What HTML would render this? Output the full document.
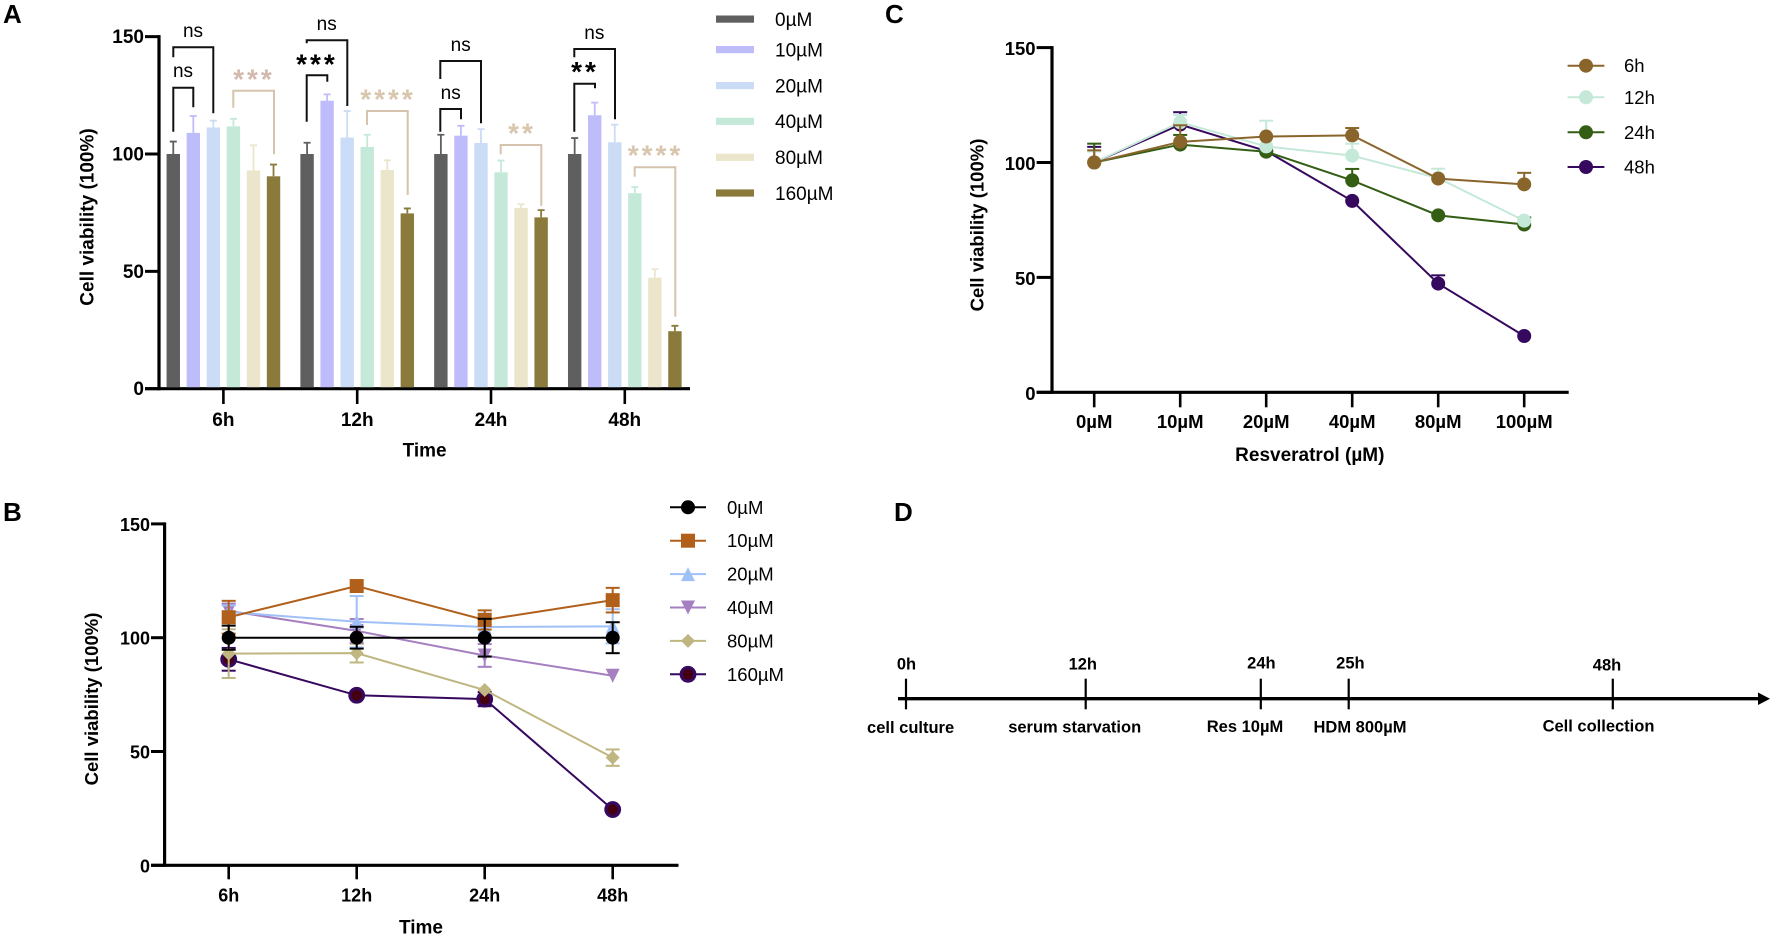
<!DOCTYPE html>
<html lang="en">
<head>
<meta charset="utf-8">
<title>Cell viability figure</title>
<style>
html,body{margin:0;padding:0;background:#fff}
svg{display:block;position:absolute;left:0;top:0}
text{font-family:"Liberation Sans",sans-serif;fill:#000}
.b{font-weight:700}
.bracket{fill:none;stroke-width:2}
.stars{font-size:28px;font-weight:700;letter-spacing:3px;text-anchor:middle}
.ns{font-size:19px;text-anchor:middle}
.d{font-size:16.5px;font-weight:700;text-anchor:middle;dominant-baseline:central}
.leg{font-size:19px;dominant-baseline:central}
.letter{font-size:26px;font-weight:700}
</style>
</head>
<body>
<svg id="figure" xmlns="http://www.w3.org/2000/svg" width="1772" height="937" viewBox="0 0 1772 937">
<rect width="1772" height="937" fill="#fff"/>
<text class="letter" x="3" y="23">A</text>
<text class="letter" x="3" y="521">B</text>
<text class="letter" x="885" y="23">C</text>
<text class="letter" x="894" y="521">D</text>

<g id="panelA"></g>
<g id="panelABrackets">
  <path class="bracket" stroke="#111" d="M173.3 131.7V87.7H193.3V107.3"/>
  <text class="ns" x="183" y="77">ns</text>
  <path class="bracket" stroke="#111" d="M173.3 57.3V47.3H213.3V113.3"/>
  <text class="ns" x="193" y="37">ns</text>
  <path class="bracket" stroke="#d6c3ad" d="M233.3 107.7V90.7H274V154.3"/>
  <text class="stars" style="fill:#d3b9ae" x="254" y="88.5">***</text>

  <path class="bracket" stroke="#111" d="M306.7 43.3V40.3H347.3V106"/>
  <text class="ns" x="326.7" y="30">ns</text>
  <path class="bracket" stroke="#111" d="M306.7 121.7V75.3H327.3V81.7"/>
  <text class="stars" x="317" y="73.5">***</text>
  <path class="bracket" stroke="#d6c3ad" d="M367 125V111H407.7V195"/>
  <text class="stars" style="fill:#d9c6ae" x="388" y="108.5">****</text>

  <path class="bracket" stroke="#111" d="M440.3 79V61H481V123.3"/>
  <text class="ns" x="460.7" y="51">ns</text>
  <path class="bracket" stroke="#111" d="M440.3 131.7V109H461V119.3"/>
  <text class="ns" x="450.7" y="99">ns</text>
  <path class="bracket" stroke="#d6c3ad" d="M500.7 154.3V145H541.3V205.7"/>
  <text class="stars" style="fill:#d9c6ae" x="522" y="142.5">**</text>

  <path class="bracket" stroke="#111" d="M574.3 57.3V49H615V119.3"/>
  <text class="ns" x="594.3" y="39">ns</text>
  <path class="bracket" stroke="#111" d="M574.3 131.7V83.7H595V88.3"/>
  <text class="stars" x="585" y="81">**</text>
  <path class="bracket" stroke="#d6c3ad" d="M634.7 176.7V167.3H675.3V316.7"/>
  <text class="stars" style="fill:#d9c6ae" x="655.5" y="164.5">****</text>
</g>
<g id="legendA">
  <rect x="716" y="15.5" width="38" height="7.2" fill="#5f5f5f"/>
  <text class="leg" x="775" y="20.5">0µM</text>
  <rect x="716" y="46" width="38" height="7.2" fill="#bfbcfb"/>
  <text class="leg" x="775" y="51">10µM</text>
  <rect x="716" y="82" width="38" height="7.2" fill="#cbdcf6"/>
  <text class="leg" x="775" y="87">20µM</text>
  <rect x="716" y="117.7" width="38" height="7.2" fill="#c5e9d9"/>
  <text class="leg" x="775" y="122.5">40µM</text>
  <rect x="716" y="153.7" width="38" height="7.2" fill="#ebe5cb"/>
  <text class="leg" x="775" y="158.5">80µM</text>
  <rect x="716" y="189.4" width="38" height="7.2" fill="#8a7b3c"/>
  <text class="leg" x="775" y="194.3">160µM</text>
</g>

<g id="panelB"></g>
<g id="panelC"></g>

<g id="panelD">
  <line x1="898" y1="698.7" x2="1760" y2="698.7" stroke="#000" stroke-width="3.4"/>
  <polygon points="1758,692.5 1770,698.7 1758,705" fill="#000"/>
  <line x1="906" y1="678.7" x2="906" y2="709.3" stroke="#000" stroke-width="2.2"/>
  <line x1="1085.7" y1="678.7" x2="1085.7" y2="709.3" stroke="#000" stroke-width="2.2"/>
  <line x1="1260.8" y1="678.7" x2="1260.8" y2="709.3" stroke="#000" stroke-width="2.2"/>
  <line x1="1348.7" y1="678.7" x2="1348.7" y2="709.3" stroke="#000" stroke-width="2.2"/>
  <line x1="1612.8" y1="678.7" x2="1612.8" y2="709.3" stroke="#000" stroke-width="2.2"/>
  <text class="d" x="906.5" y="664.3">0h</text>
  <text class="d" x="1082.8" y="664.3">12h</text>
  <text class="d" x="1261.4" y="663.7">24h</text>
  <text class="d" x="1350.4" y="663.7">25h</text>
  <text class="d" x="1607" y="665.7">48h</text>
  <text class="d" x="910.6" y="727.8">cell culture</text>
  <text class="d" x="1074.7" y="727.5">serum starvation</text>
  <text class="d" x="1245" y="727.2">Res 10µM</text>
  <text class="d" x="1360" y="727.5">HDM 800µM</text>
  <text class="d" x="1598.5" y="726.5">Cell collection</text>
</g>
</svg>

<script>
// ---- Shared tick labels ----
const yTickValues = [0, 50, 100, 150];

// ---- Panel A data ----
const timeCategories = ['6h', '12h', '24h', '48h'];
const barDoseLabels = ['0uM', '10uM', '20uM', '40uM', '80uM', '160uM'];
const bars6h = [100, 109, 111.3, 111.8, 93, 90.5];
const bars12h = [100, 122.7, 107, 103, 93.2, 74.7];
const bars24h = [100, 107.8, 104.7, 92.2, 77, 73];
const bars48h = [100, 116.5, 105, 83.3, 47.3, 24.5];
const barTops6h = [105.3, 116.2, 114.2, 115, 103.7, 95.5];
const barTops12h = [104.8, 125.4, 118.3, 108.2, 97.3, 76.8];
const barTops24h = [108.2, 112, 110.6, 97.2, 78.6, 76.1];
const barTops48h = [106.8, 121.9, 112.5, 85.9, 50.9, 26.8];

// ---- Panel B data (across time) ----
const lineB0 = [100, 100, 100, 100];
const lineB10 = [109, 122.7, 107.8, 116.5];
const lineB20 = [111.3, 107, 104.7, 105];
const lineB40 = [111.8, 103, 92.2, 83.3];
const lineB80 = [93, 93.2, 77, 47.3];
const lineB160 = [90.5, 74.7, 73, 24.5];
const errB0 = [5.3, 4.8, 8.3, 6.8];
const errB10 = [7.2, 0, 4.2, 5.4];
const errB20 = [2.9, 11.3, 5.9, 7.5];
const errB40 = [3.2, 5.2, 5, 0];
const errB80 = [10.7, 4.1, 0, 3.6];
const errB160 = [5, 0, 3.1, 0];

// ---- Panel C data (across dose) ----
const doseCategories = ['0µM', '10µM', '20µM', '40µM', '80µM', '100µM'];
const lineC6h = [100, 109, 111.3, 111.8, 93, 90.5];
const lineC12h = [100, 117.5, 107, 103, 93.2, 74.7];
const lineC24h = [100, 107.8, 104.7, 92.2, 77, 73];
const lineC48h = [100, 116.5, 105, 83.3, 47.3, 24.5];
const errC6h = [5.3, 7.2, 0, 3.2, 0, 5];
const errC12h = [4.8, 3.2, 11.2, 5.2, 4.1, 0];
const errC24h = [8.2, 4.2, 0, 5, 0, 3.1];
const errC48h = [6.8, 5.4, 0, 0, 3.6, 0];

const NS = 'http://www.w3.org/2000/svg';
function add(parent, tag, attrs, txt) {
  const el = document.createElementNS(NS, tag);
  for (const k in attrs) el.setAttribute(k, attrs[k]);
  if (txt !== undefined) el.textContent = txt;
  parent.appendChild(el);
  return el;
}

function drawAxes(g, c) {
  const yAxis = add(g, 'line', {x1: c.axisX, y1: c.yOf(150) - 1.5, x2: c.axisX, y2: c.yOf(0) + 1.5, stroke: '#000', 'stroke-width': 3.2});
  
  
  const xAxis = add(g, 'line', {x1: c.axisStart, y1: c.yOf(0), x2: c.axisEnd, y2: c.yOf(0), stroke: '#000', 'stroke-width': 3.2});
  
  
  yTickValues.forEach(function (v) {
    const t = add(g, 'line', {x1: c.axisStart, y1: c.yOf(v), x2: c.axisX, y2: c.yOf(v), stroke: '#000', 'stroke-width': 3});
    
    
    const l = add(g, 'text', {x: c.axisStart - 1, y: c.yOf(v) + 1, 'text-anchor': 'end', 'dominant-baseline': 'central', 'font-weight': 700, 'font-size': c.tickSize}, String(v));
    
    
  });
  c.categories.forEach(function (cat, i) {
    const t = add(g, 'line', {x1: c.xOf(i), y1: c.yOf(0), x2: c.xOf(i), y2: c.tickBottom, stroke: '#000', 'stroke-width': 2.6});
    
    
    const l = add(g, 'text', {x: c.xOf(i), y: c.tickLabelY, 'text-anchor': 'middle', 'dominant-baseline': 'central', 'font-weight': 700, 'font-size': c.tickSize}, cat);
    
    
  });
  const xt = add(g, 'text', {x: c.xTitleX, y: c.xTitleY, 'text-anchor': 'middle', 'dominant-baseline': 'central', 'font-weight': 700, 'font-size': 19}, c.xTitle);
  
  
  const yt = add(g, 'text', {transform: 'translate(' + c.yTitleX + ' ' + c.yTitleY + ') rotate(-90)', 'text-anchor': 'middle', 'dominant-baseline': 'central', 'font-weight': 700, 'font-size': c.yTitleSize}, 'Cell viability (100%)');
  
  
}

function drawMarker(g, kind, x, y, color, name) {
  let m;
  if (kind === 'circle') {
    m = add(g, 'circle', {cx: x, cy: y, r: 7, fill: color});
  } else if (kind === 'ring') {
    m = add(g, 'circle', {cx: x, cy: y, r: 6.8, fill: '#44000f', stroke: color, 'stroke-width': 3.2});
  } else if (kind === 'square') {
    m = add(g, 'rect', {x: x - 7, y: y - 7, width: 14, height: 14, fill: color});
  } else if (kind === 'up') {
    m = add(g, 'polygon', {points: (x - 7) + ',' + (y + 7) + ' ' + (x + 7) + ',' + (y + 7) + ' ' + x + ',' + (y - 7), fill: color});
  } else if (kind === 'down') {
    m = add(g, 'polygon', {points: (x - 7) + ',' + (y - 7) + ' ' + (x + 7) + ',' + (y - 7) + ' ' + x + ',' + (y + 7), fill: color});
  } else {
    m = add(g, 'polygon', {points: (x - 7) + ',' + y + ' ' + x + ',' + (y - 7) + ' ' + (x + 7) + ',' + y + ' ' + x + ',' + (y + 7), fill: color});
  }
  
  
}

function drawSeries(g, c, s) {
  const sg = add(g, 'g', {});
  
  
  s.values.forEach(function (v, i) {
    if (s.errs[i] <= 0) return;
    const x = c.xOf(i);
    const top = c.yOf(v + s.errs[i]);
    const bot = s.both ? c.yOf(v - s.errs[i]) : c.yOf(v);
    const e = add(sg, 'line', {x1: x, y1: top, x2: x, y2: bot, stroke: s.color, 'stroke-width': 2});
    
    
    const capTop = add(sg, 'line', {x1: x - 7, y1: top, x2: x + 7, y2: top, stroke: s.color, 'stroke-width': 2});
    
    
    if (s.both) {
      const capBot = add(sg, 'line', {x1: x - 7, y1: bot, x2: x + 7, y2: bot, stroke: s.color, 'stroke-width': 2});
      
      
    }
  });
  const pts = s.values.map(function (v, i) { return c.xOf(i) + ',' + c.yOf(v); }).join(' ');
  const line = add(sg, 'polyline', {points: pts, fill: 'none', stroke: s.color, 'stroke-width': 2});
  
  
  s.values.forEach(function (v, i) {
    drawMarker(sg, s.marker, c.xOf(i), c.yOf(v), s.color, 'point-' + s.name);
  });
}

function legendRow(g, s, x1, x2, textX, y, size) {
  const l = add(g, 'line', {x1: x1, y1: y, x2: x2, y2: y, stroke: s.color, 'stroke-width': 2});
  
  
  drawMarker(g, s.marker, (x1 + x2) / 2, y, s.color, 'legend-marker-' + s.name);
  const t = add(g, 'text', {x: textX, y: y, 'dominant-baseline': 'central', 'font-size': size}, s.label);
  
  
}

// ---- Panel A ----
const cfgA = {
  yOf: function (v) { return 388.7 - v * 2.347; },
  xOf: function (i) { return 223.4 + i * 133.8; },
  axisX: 159, axisStart: 145, axisEnd: 690, tickBottom: 404, tickLabelY: 420.5, tickSize: 19,
  categories: timeCategories, xTitle: 'Time', xTitleX: 424.6, xTitleY: 451,
  yTitleX: 88, yTitleY: 217, yTitleSize: 19
};
const groupsA = [bars6h, bars12h, bars24h, bars48h];
const topsA = [barTops6h, barTops12h, barTops24h, barTops48h];
const barColors = ['#5f5f5f', '#bfbcfb', '#cbdcf6', '#c5e9d9', '#ebe5cb', '#8a7b3c'];
const gA = document.getElementById('panelA');
drawAxes(gA, cfgA);
groupsA.forEach(function (vals, gi) {
  vals.forEach(function (v, bi) {
    const cx = cfgA.xOf(gi) + (bi - 2.5) * 20.05;
    const r = add(gA, 'rect', {x: cx - 6.7, y: cfgA.yOf(v), width: 13.4, height: cfgA.yOf(0) - 1.5 - cfgA.yOf(v), fill: barColors[bi]});
    
    
    const yt = cfgA.yOf(topsA[gi][bi]);
    const e = add(gA, 'path', {d: 'M' + cx + ' ' + cfgA.yOf(v) + 'V' + yt + 'M' + (cx - 3.5) + ' ' + yt + 'H' + (cx + 3.5), fill: 'none', stroke: barColors[bi], 'stroke-width': 1.8});
    
    
  });
});

// ---- Panel B ----
const cfgB = {
  yOf: function (v) { return 865.3 - v * 2.276; },
  xOf: function (i) { return 228.7 + i * 128; },
  axisX: 164.6, axisStart: 151, axisEnd: 678.5, tickBottom: 879.3, tickLabelY: 895.5, tickSize: 18,
  categories: timeCategories, xTitle: 'Time', xTitleX: 421, xTitleY: 928,
  yTitleX: 91.6, yTitleY: 699, yTitleSize: 18.5
};
const seriesB = [
  {name: '0um', label: '0µM', values: lineB0, errs: errB0, color: '#000000', marker: 'circle', both: true},
  {name: '10um', label: '10µM', values: lineB10, errs: errB10, color: '#b0601a', marker: 'square', both: true},
  {name: '20um', label: '20µM', values: lineB20, errs: errB20, color: '#a0c0f8', marker: 'up', both: true},
  {name: '40um', label: '40µM', values: lineB40, errs: errB40, color: '#a57fc0', marker: 'down', both: true},
  {name: '80um', label: '80µM', values: lineB80, errs: errB80, color: '#bfb681', marker: 'diamond', both: true},
  {name: '160um', label: '160µM', values: lineB160, errs: errB160, color: '#36085e', marker: 'ring', both: true}
];
const gB = document.getElementById('panelB');
drawAxes(gB, cfgB);
seriesB.slice().reverse().forEach(function (s) { drawSeries(gB, cfgB, s); });
seriesB.forEach(function (s, i) {
  legendRow(gB, s, 670, 706, 727, 507.3 + i * 33.4, 18.5);
});

// ---- Panel C ----
const cfgC = {
  yOf: function (v) { return 392.3 - v * 2.298; },
  xOf: function (i) { return 1094.2 + i * 86; },
  axisX: 1052, axisStart: 1036.6, axisEnd: 1568.7, tickBottom: 407.3, tickLabelY: 421.7, tickSize: 18.5,
  categories: doseCategories, xTitle: 'Resveratrol (µM)', xTitleX: 1309.8, xTitleY: 455.7,
  yTitleX: 976.8, yTitleY: 225, yTitleSize: 18.5
};
const seriesC = [
  {name: '6h', label: '6h', values: lineC6h, errs: errC6h, color: '#8a652b', marker: 'circle', both: false},
  {name: '12h', label: '12h', values: lineC12h, errs: errC12h, color: '#c5e9d9', marker: 'circle', both: false},
  {name: '24h', label: '24h', values: lineC24h, errs: errC24h, color: '#335e14', marker: 'circle', both: false},
  {name: '48h', label: '48h', values: lineC48h, errs: errC48h, color: '#36095e', marker: 'circle', both: false}
];
const gC = document.getElementById('panelC');
drawAxes(gC, cfgC);
seriesC.slice().reverse().forEach(function (s) { drawSeries(gC, cfgC, s); });
legendRow(gC, seriesC[0], 1567.6, 1604.4, 1624, 65.7, 18.5);
legendRow(gC, seriesC[1], 1567.6, 1604.4, 1624, 97.3, 18.5);
legendRow(gC, seriesC[2], 1567.6, 1604.4, 1624, 132.3, 18.5);
legendRow(gC, seriesC[3], 1567.6, 1604.4, 1624, 167, 18.5);
</script>
</body>
</html>
